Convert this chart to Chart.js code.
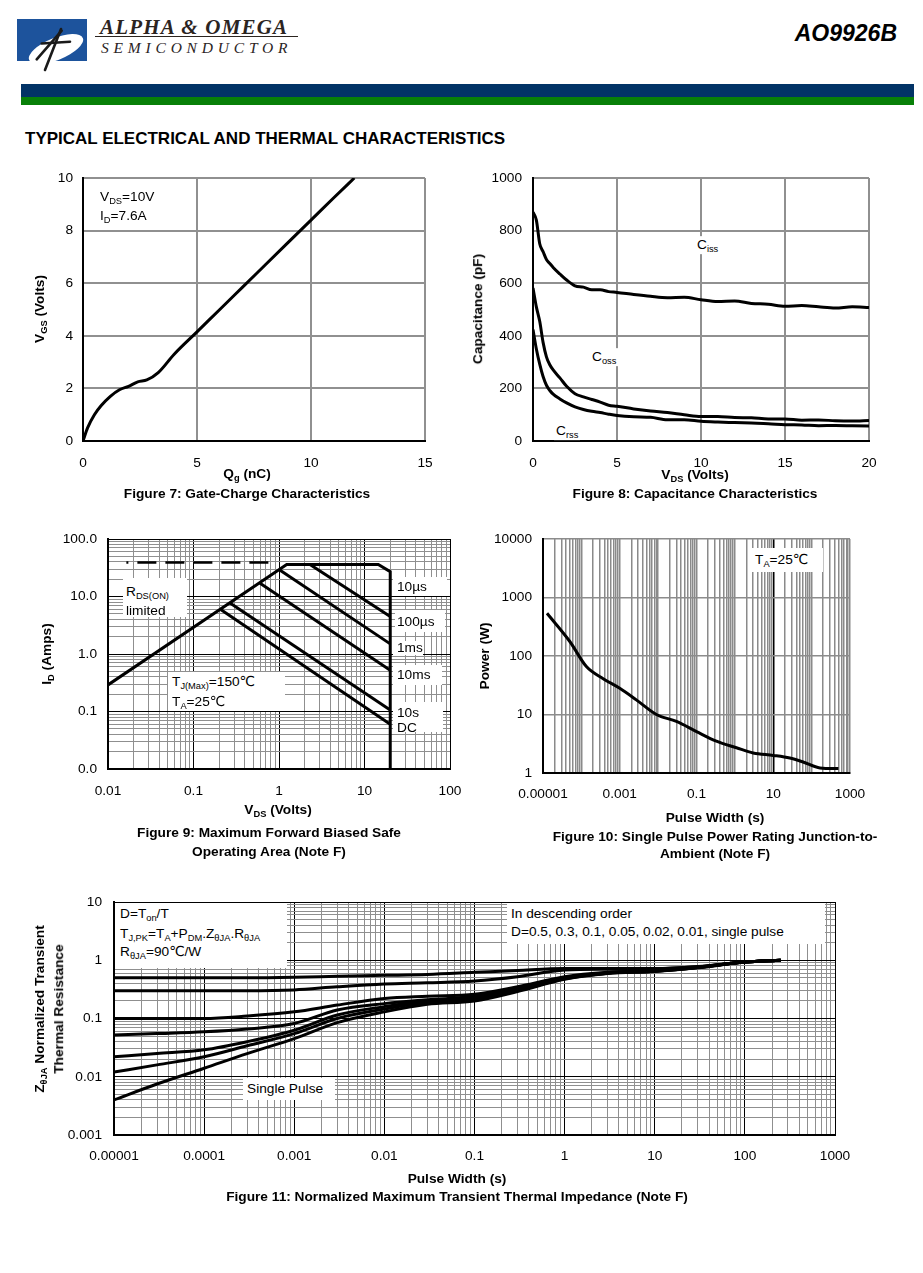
<!DOCTYPE html>
<html>
<head>
<meta charset="utf-8">
<script src="https://cdn.jsdelivr.net/npm/chart.js@4.4.1/dist/chart.umd.min.js"></script>
<style>
body{margin:0;background:#fff;}
#page{position:relative;width:923px;height:1273px;overflow:hidden;background:#fff;}
canvas{position:absolute;}
.t{position:absolute;white-space:nowrap;line-height:1;font-family:'Liberation Sans','DejaVu Sans',Arial,sans-serif;font-size:13.7px;color:#000;}
.cc{transform:translate(-50%,-50%);}
.lc{transform:translateY(-50%);}
.rot{transform:translate(-50%,-50%) rotate(-90deg);}
.b{font-weight:bold;}
.box{position:absolute;background:#fff;overflow:hidden;}
.pad{background:#fff;padding:2px 2px;}
sub{font-size:0.68em;vertical-align:-0.3em;line-height:0;}
</style>
</head>
<body>
<div id="page">
  <svg width="80" height="56" style="position:absolute;left:17px;top:19px">
    <defs><clipPath id="cp"><rect x="0" y="0" width="70" height="42"/></clipPath></defs>
    <rect x="0" y="0" width="70" height="42" fill="#1d539c"/>
    <g clip-path="url(#cp)"><ellipse cx="39" cy="30" rx="29" ry="11" transform="rotate(-22 39 30)" fill="#fff"/></g>
    <g stroke="#1a1a1a" stroke-width="2.6" stroke-linecap="round" fill="none">
      <path d="M19.7 40.3 L44.7 11.7"/>
      <path d="M44 10 L28 51"/>
      <path d="M24.7 24.5 L53 22.7"/>
    </g>
  </svg>
  <div class="t" style="left:100px;top:15px;font:bold italic 21px 'Liberation Serif',serif;letter-spacing:1.2px;color:#2b241f">ALPHA &amp; OMEGA</div>
  <div style="position:absolute;left:95px;top:36px;width:203px;height:1px;background:#2b241f"></div>
  <div class="t" style="left:101px;top:39px;font:italic 15.5px 'Liberation Serif',serif;letter-spacing:4.8px;color:#2b241f">SEMICONDUCTOR</div>
  <div class="t" style="right:26px;top:20px;font:bold italic 23px 'Liberation Sans',Arial,sans-serif">AO9926B</div>
  <div style="position:absolute;left:21px;top:84px;width:893px;height:13px;background:#023366"></div>
  <div style="position:absolute;left:21px;top:97px;width:893px;height:8px;background:#088008"></div>
  <div class="t b lc" style="left:25px;top:138px;font-size:17px">TYPICAL ELECTRICAL AND THERMAL CHARACTERISTICS</div>

  <canvas id="fig7"></canvas>
  <canvas id="fig8"></canvas>
  <canvas id="fig9"></canvas>
  <canvas id="fig10"></canvas>
  <canvas id="fig11"></canvas>

  <!-- figure 7 -->
  <div class="t lc" style="left:100px;top:197px">V<sub>DS</sub>=10V</div>
  <div class="t lc" style="left:100px;top:216px">I<sub>D</sub>=7.6A</div>
  <div class="t b rot" style="left:40px;top:309px">V<sub>GS</sub> (Volts)</div>
  <div class="t b cc" style="left:247px;top:474px">Q<sub>g</sub> (nC)</div>
  <div class="t b cc" style="left:247px;top:494px">Figure 7: Gate-Charge Characteristics</div>

  <!-- figure 8 -->
  <div class="t lc pad" style="left:695px;top:245px">C<sub>iss</sub></div>
  <div class="t lc pad" style="left:590px;top:357px">C<sub>oss</sub></div>
  <div class="t lc pad" style="left:554px;top:431px">C<sub>rss</sub></div>
  <div class="t b rot" style="left:478px;top:309px">Capacitance (pF)</div>
  <div class="t b cc" style="left:695px;top:475px">V<sub>DS</sub> (Volts)</div>
  <div class="t b cc" style="left:695px;top:494px">Figure 8: Capacitance Characteristics</div>

  <!-- figure 9 -->
  <div class="box" style="left:123px;top:578px;width:64px;height:39px"></div>
  <div class="t lc" style="left:126px;top:592px">R<sub>DS(ON)</sub></div>
  <div class="t lc" style="left:126px;top:611px">limited</div>
  <div class="box" style="left:168px;top:672px;width:117px;height:39px"></div>
  <div class="t lc" style="left:172px;top:682px">T<sub>J(Max)</sub>=150℃</div>
  <div class="t lc" style="left:172px;top:702px">T<sub>A</sub>=25℃</div>
  <div class="box" style="left:393px;top:577px;width:54px;height:19px"><div class="t lc" style="left:4px;top:10px">10µs</div></div>
  <div class="box" style="left:395px;top:610px;width:50px;height:22px"><div class="t lc" style="left:2px;top:12px">100µs</div></div>
  <div class="box" style="left:393px;top:641px;width:30px;height:14px"><div class="t lc" style="left:4px;top:7px">1ms</div></div>
  <div class="box" style="left:393px;top:665px;width:49px;height:20px"><div class="t lc" style="left:4px;top:10px">10ms</div></div>
  <div class="box" style="left:393px;top:702px;width:50px;height:30px"><div class="t lc" style="left:4px;top:10.5px">10s</div><div class="t lc" style="left:4px;top:26px">DC</div></div>
  <div class="t b rot" style="left:47px;top:654px">I<sub>D</sub> (Amps)</div>
  <div class="t b cc" style="left:278px;top:810px">V<sub>DS</sub> (Volts)</div>
  <div class="t b cc" style="left:269px;top:833px">Figure 9: Maximum Forward Biased Safe</div>
  <div class="t b cc" style="left:269px;top:852px">Operating Area (Note F)</div>

  <!-- figure 10 -->
  <div class="box" style="left:752px;top:548px;width:71px;height:24px"></div>
  <div class="t lc" style="left:755px;top:560px">T<sub>A</sub>=25℃</div>
  <div class="t b rot" style="left:485px;top:656px">Power (W)</div>
  <div class="t b cc" style="left:715px;top:818px">Pulse Width (s)</div>
  <div class="t b cc" style="left:715px;top:837px">Figure 10: Single Pulse Power Rating Junction-to-</div>
  <div class="t b cc" style="left:715px;top:854px">Ambient (Note F)</div>

  <!-- figure 11 -->
  <div class="box" style="left:115px;top:903px;width:172px;height:65px"></div>
  <div class="t lc" style="left:120px;top:914px">D=T<sub>on</sub>/T</div>
  <div class="t lc" style="left:120px;top:934px">T<sub>J,PK</sub>=T<sub>A</sub>+P<sub>DM</sub>.Z<sub>θJA</sub>.R<sub>θJA</sub></div>
  <div class="t lc" style="left:120px;top:952px">R<sub>θJA</sub>=90℃/W</div>
  <div class="box" style="left:507px;top:903px;width:318px;height:41px"></div>
  <div class="t lc" style="left:511px;top:914px">In descending order</div>
  <div class="t lc" style="left:511px;top:932px">D=0.5, 0.3, 0.1, 0.05, 0.02, 0.01, single pulse</div>
  <div class="box" style="left:243px;top:1078px;width:92px;height:22px"></div>
  <div class="t lc" style="left:247px;top:1089px">Single Pulse</div>
  <div class="t b rot" style="left:40px;top:1009px">Z<sub>θJA</sub> Normalized Transient</div>
  <div class="t b rot" style="left:59px;top:1009px">Thermal Resistance</div>
  <div class="t b cc" style="left:457px;top:1179px">Pulse Width (s)</div>
  <div class="t b cc" style="left:457px;top:1197px">Figure 11: Normalized Maximum Transient Thermal Impedance (Note F)</div>
</div>

<script>
// Figure 7: gate charge
var qg  = [0, 0.2, 0.5, 0.8, 1.2, 1.6, 2.0, 2.4, 2.8, 3.3, 4.0, 5.0, 6.0, 7.0, 8.0, 9.0, 10.0, 11.0, 11.9];
var vgs = [0, 0.5, 1.0, 1.35, 1.7, 1.95, 2.08, 2.25, 2.32, 2.6, 3.3, 4.15, 5.0, 5.85, 6.7, 7.55, 8.4, 9.25, 10];
var fig7XTicks = [0, 5, 10, 15];
var fig7YTicks = [0, 2, 4, 6, 8, 10];

// Figure 8: capacitance
var capVds = [0, 0.2, 0.4, 0.6, 0.8, 1, 1.2, 1.6, 2, 2.5, 3, 3.5, 4, 4.5, 5, 6, 7, 8, 9, 10, 11, 12, 13, 14, 15, 16, 17, 18, 19, 20];
var ciss = [870, 840, 750, 720, 690, 675, 660, 635, 612, 590, 585, 575, 575, 568, 565, 557, 550, 545, 547, 537, 530, 532, 523, 520, 512, 515, 510, 506, 510, 508];
var coss = [582, 510, 455, 375, 320, 290, 270, 240, 208, 180, 168, 158, 148, 136, 132, 122, 114, 108, 100, 93, 93, 89, 88, 84, 84, 79, 80, 77, 76, 78];
var crss = [424, 350, 292, 245, 212, 192, 178, 160, 145, 130, 120, 113, 108, 102, 97, 92, 90, 81, 81, 75, 72, 70, 68, 66, 62, 61, 58, 59, 58, 57];
var fig8XTicks = [0, 5, 10, 15, 20];
var fig8YTicks = [0, 200, 400, 600, 800, 1000];

// Figure 9: safe operating area
var soaLimitV = [0.01, 1.23, 14.5, 20, 20];
var soaLimitI = [0.29, 36, 36, 27, 0.01];
var soaDashV = [0.0164, 0.78];
var soaDashI = [39, 39];
var soa10usV = [2.3, 20],   soa10usI = [36, 4.5];
var soa100usV = [1.02, 20], soa100usI = [29, 1.5];
var soa1msV = [0.6, 20],    soa1msI = [17, 0.52];
var soa10msV = [0.27, 20],  soa10msI = [7.6, 0.106];
var soaDcV = [0.21, 20],    soaDcI = [5.9, 0.06];
var fig9XTickVals = [0.01, 0.1, 1, 10, 100];
var fig9XTickLabels = ['0.01', '0.1', '1', '10', '100'];
var fig9YTickVals = [0.01, 0.1, 1, 10, 100];
var fig9YTickLabels = ['0.0', '0.1', '1.0', '10.0', '100.0'];

// Figure 10: single pulse power
var pulseW = [1.27e-5, 5e-5, 1.35e-4, 3.7e-4, 1e-3, 2.7e-3, 9e-3, 3e-2, 0.1, 0.33, 1.1, 3, 10, 27, 60, 165, 500];
var powerW = [537, 177, 66, 41, 28, 17.8, 10, 7.6, 5.1, 3.5, 2.7, 2.2, 2.0, 1.8, 1.54, 1.22, 1.19];
var fig10XTickVals = [1e-5, 1e-3, 0.1, 10, 1000];
var fig10XTickLabels = ['0.00001', '0.001', '0.1', '10', '1000'];
var fig10YTickVals = [1, 10, 100, 1000, 10000];
var fig10YTickLabels = ['1', '10', '100', '1000', '10000'];

// Figure 11: transient thermal impedance
var zPulse = [1e-5, 3e-5, 1e-4, 3e-4, 1e-3, 3e-3, 1e-2, 3e-2, 0.1, 0.3, 1, 3, 10, 30, 100, 250];
var zD50 = [0.5, 0.5, 0.5, 0.5, 0.51, 0.53, 0.55, 0.57, 0.62, 0.67, 0.72, 0.72, 0.72, 0.78, 0.93, 1.0];
var zD30 = [0.3, 0.3, 0.3, 0.3, 0.31, 0.35, 0.39, 0.41, 0.44, 0.52, 0.68, 0.7, 0.71, 0.77, 0.93, 1.0];
var zD10 = [0.1, 0.1, 0.1, 0.11, 0.13, 0.17, 0.22, 0.24, 0.26, 0.35, 0.52, 0.62, 0.67, 0.76, 0.93, 1.0];
var zD05 = [0.052, 0.055, 0.059, 0.066, 0.082, 0.14, 0.18, 0.21, 0.24, 0.33, 0.5, 0.61, 0.66, 0.76, 0.93, 1.0];
var zD02 = [0.022, 0.025, 0.029, 0.04, 0.063, 0.115, 0.16, 0.2, 0.225, 0.31, 0.49, 0.6, 0.65, 0.75, 0.93, 1.0];
var zD01 = [0.012, 0.016, 0.022, 0.034, 0.055, 0.1, 0.145, 0.19, 0.215, 0.3, 0.48, 0.6, 0.65, 0.75, 0.93, 1.0];
var zSingle = [0.004, 0.0075, 0.014, 0.025, 0.045, 0.085, 0.13, 0.175, 0.2, 0.29, 0.47, 0.59, 0.64, 0.74, 0.93, 1.0];
var fig11XTickVals = [1e-5, 1e-4, 1e-3, 1e-2, 0.1, 1, 10, 100, 1000];
var fig11XTickLabels = ['0.00001', '0.0001', '0.001', '0.01', '0.1', '1', '10', '100', '1000'];
var fig11YTickVals = [0.001, 0.01, 0.1, 1, 10];
var fig11YTickLabels = ['0.001', '0.01', '0.1', '1', '10'];

var tickFont = {family: "'Liberation Sans', Arial, sans-serif", size: 13.7};
var ONE_TO_NINE = [1, 2, 3, 4, 5, 6, 7, 8, 9];

function pts(xs, ys) {
  return xs.map(function(x, i) { return {x: x, y: ys[i]}; });
}

function curve(xs, ys, smooth) {
  var d = {data: pts(xs, ys), showLine: true, pointRadius: 0, borderColor: '#000',
    borderWidth: 3, fill: false, tension: 0};
  if (smooth) d.cubicInterpolationMode = 'monotone';
  return d;
}

function labelFor(vals, labels) {
  return function(v) {
    for (var i = 0; i < vals.length; i++) {
      if (v === vals[i] || Math.abs(v - vals[i]) <= 1e-6 * Math.abs(vals[i])) return labels[i];
    }
    return '';
  };
}

function isDecade(v) {
  var l = Math.log10(v);
  return Math.abs(l - Math.round(l)) < 1e-6;
}

function logTicks(lo, hi, mults) {
  var out = [];
  for (var e = lo; e < hi; e++) {
    mults.forEach(function(m) { out.push(m * Math.pow(10, e)); });
  }
  out.push(Math.pow(10, hi));
  return out;
}

function linAxis(min, max, step, pad, vals) {
  return {type: 'linear', min: min, max: max,
    ticks: {stepSize: step, padding: pad, color: '#000', font: tickFont, autoSkip: false, maxRotation: 0,
      callback: labelFor(vals, vals.map(String))},
    grid: {drawTicks: false, color: '#909090', lineWidth: 2},
    border: {color: '#000', width: 2}};
}

function logAxis(lo, hi, mults, vals, labels, pad, color, width) {
  return {type: 'logarithmic', min: Math.pow(10, lo), max: Math.pow(10, hi),
    afterBuildTicks: function(s) {
      s.ticks = logTicks(lo, hi, mults).map(function(v) { return {value: v}; });
    },
    ticks: {padding: pad, color: '#000', font: tickFont, autoSkip: false, maxRotation: 0,
      callback: labelFor(vals, labels)},
    grid: {drawTicks: false,
      color: function(ctx) { return color(ctx.tick.value); },
      lineWidth: function(ctx) { return width(ctx.tick.value); }},
    border: {color: '#000', width: 2}};
}

function makeChart(id, g, datasets, xOpt, yOpt) {
  var c = document.getElementById(id);
  c.width = g.R - g.L + g.yw + g.pr;
  c.height = g.B - g.T + g.pt + g.xh;
  c.style.left = (g.L - g.yw) + 'px';
  c.style.top = (g.T - g.pt) + 'px';
  // fixed axis sizes, no label overhang padding, so the plot box lands where it should
  xOpt.afterFit = function(s) { s.height = g.xh; s.paddingLeft = 0; s.paddingRight = 0; s.paddingTop = 0; s.paddingBottom = 0; };
  yOpt.afterFit = function(s) { s.width = g.yw; s.paddingLeft = 0; s.paddingRight = 0; s.paddingTop = 0; s.paddingBottom = 0; };
  return new Chart(c.getContext('2d'), {
    type: 'scatter',
    data: {datasets: datasets},
    options: {
      responsive: false, animation: false, events: [], devicePixelRatio: 1,
      layout: {padding: {top: g.pt, right: g.pr, left: 0, bottom: 0}, autoPadding: false},
      plugins: {legend: {display: false}, tooltip: {enabled: false}},
      scales: {x: xOpt, y: yOpt}
    }
  });
}

var decadeBlack = function(v) { return isDecade(v) ? '#000' : '#8f8f8f'; };
var thin = function() { return 1; };

makeChart('fig7', {L: 83, T: 178, R: 425, B: 441, yw: 60, xh: 40, pt: 12, pr: 20},
  [curve(qg, vgs, true)],
  linAxis(0, 15, 5, 14, fig7XTicks),
  linAxis(0, 10, 2, 10, fig7YTicks));

makeChart('fig8', {L: 533, T: 178, R: 869, B: 441, yw: 60, xh: 40, pt: 12, pr: 20},
  [curve(capVds, ciss, true), curve(capVds, coss, true), curve(capVds, crss, true)],
  linAxis(0, 20, 5, 14, fig8XTicks),
  linAxis(0, 1000, 200, 11, fig8YTicks));

var dash = curve(soaDashV, soaDashI, false);
dash.borderWidth = 2.5;
dash.borderDash = [19, 9];
dash.borderDashOffset = 17;

makeChart('fig9', {L: 108, T: 539, R: 450, B: 769, yw: 70, xh: 40, pt: 12, pr: 20},
  [curve(soaLimitV, soaLimitI), dash,
   curve(soa10usV, soa10usI), curve(soa100usV, soa100usI), curve(soa1msV, soa1msI),
   curve(soa10msV, soa10msI), curve(soaDcV, soaDcI)],
  logAxis(-2, 2, ONE_TO_NINE, fig9XTickVals, fig9XTickLabels, 14, decadeBlack, thin),
  logAxis(-2, 2, ONE_TO_NINE, fig9YTickVals, fig9YTickLabels, 11, decadeBlack, thin));

makeChart('fig10', {L: 543, T: 539, R: 850, B: 773, yw: 70, xh: 40, pt: 12, pr: 24},
  [curve(pulseW, powerW, true)],
  logAxis(-5, 3, ONE_TO_NINE, fig10XTickVals, fig10XTickLabels, 13,
    function(v) { return Math.abs(v - 10) < 1e-9 ? '#000' : '#8a8a8a'; },
    function() { return 1.5; }),
  logAxis(0, 4, [1], fig10YTickVals, fig10YTickLabels, 11,
    function() { return '#8c8c8c'; }, function() { return 1.5; }));

makeChart('fig11', {L: 114, T: 902, R: 835, B: 1135, yw: 70, xh: 40, pt: 12, pr: 24},
  [curve(zPulse, zD50, true), curve(zPulse, zD30, true), curve(zPulse, zD10, true),
   curve(zPulse, zD05, true), curve(zPulse, zD02, true), curve(zPulse, zD01, true),
   curve(zPulse, zSingle, true)],
  logAxis(-5, 3, ONE_TO_NINE, fig11XTickVals, fig11XTickLabels, 13, decadeBlack, thin),
  logAxis(-3, 1, ONE_TO_NINE, fig11YTickVals, fig11YTickLabels, 12, decadeBlack, thin));
</script>
</body>
</html>
